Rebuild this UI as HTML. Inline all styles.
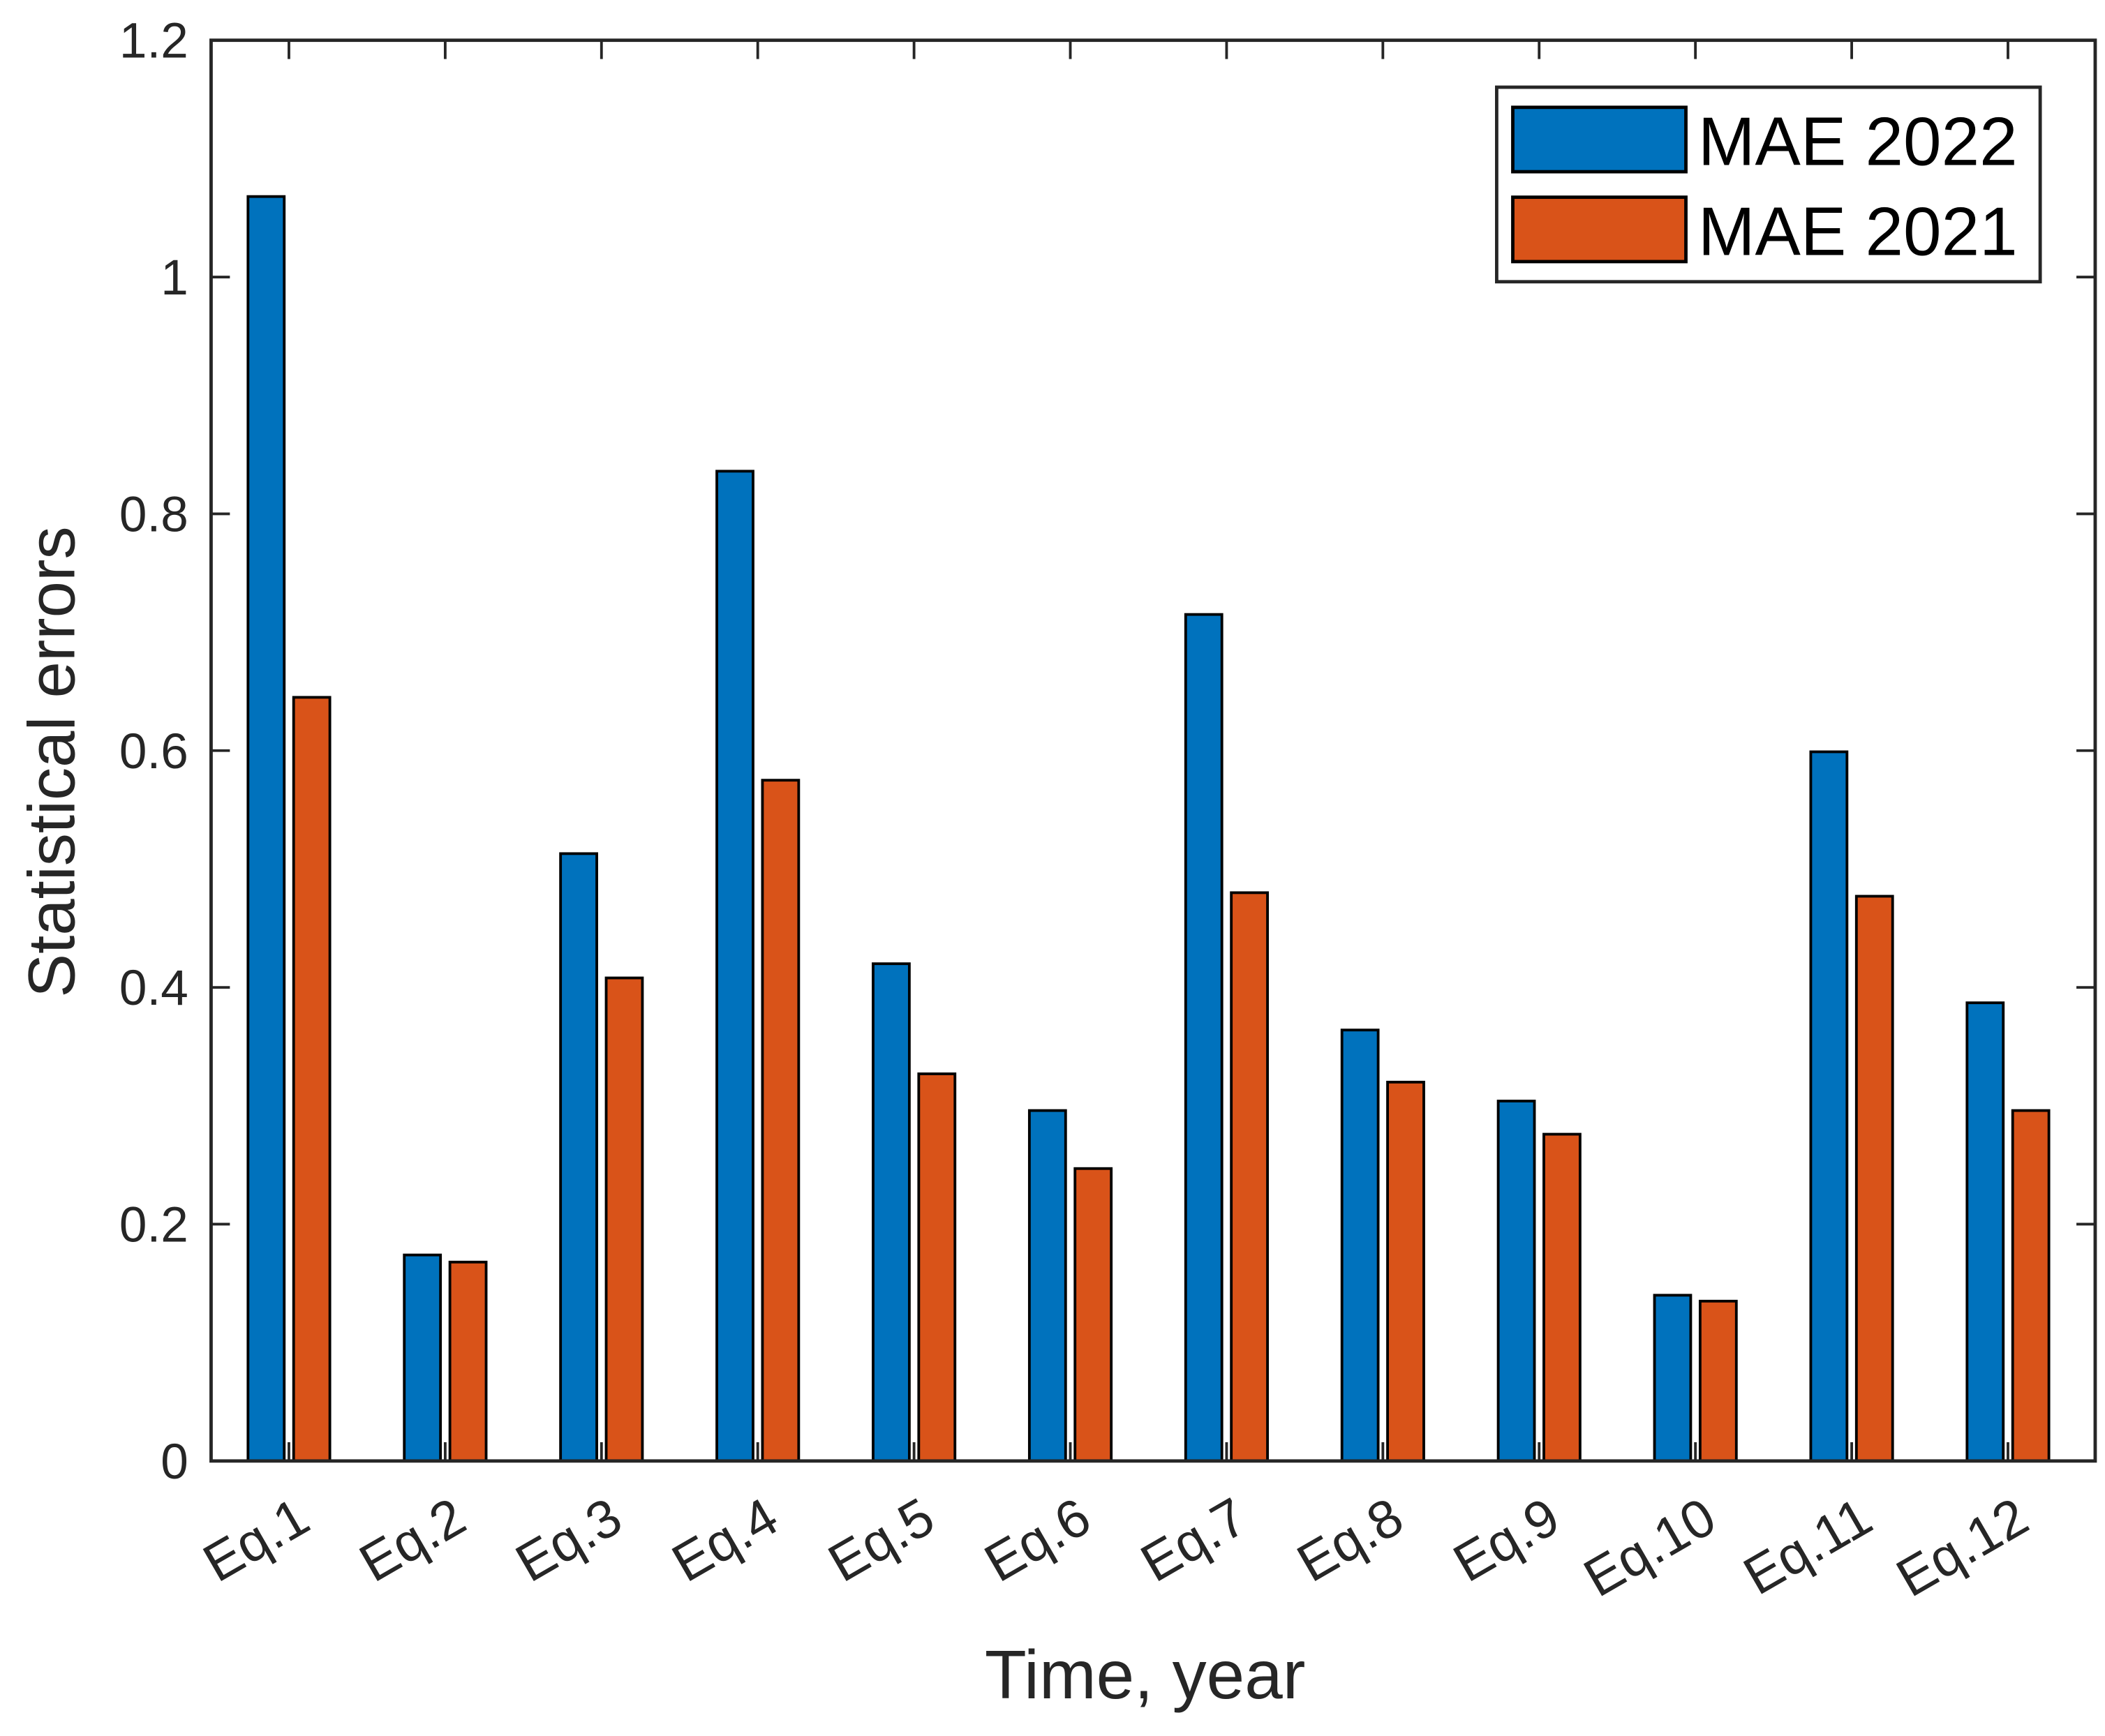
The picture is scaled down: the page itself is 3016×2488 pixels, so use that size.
<!DOCTYPE html>
<html><head><meta charset="utf-8"><style>
html,body{margin:0;padding:0;background:#fff;}
svg{display:block;font-family:"Liberation Sans",Arial,sans-serif;}
</style></head><body>
<svg id="chart" width="3016" height="2488" viewBox="0 0 1568 1294" xmlns="http://www.w3.org/2000/svg">
<rect x="0" y="0" width="1568" height="1294" fill="#fff"/>
<g id="bars"></g>
<g id="axes"></g>
<text x="853" y="1266" font-size="51" text-anchor="middle" fill="#262626">Time, year</text>
<text transform="translate(55,568) rotate(-90)" font-size="49" text-anchor="middle" fill="#262626">Statistical errors</text>
<g>
<rect x="1115" y="65" width="405" height="145" fill="#fff" stroke="#262626" stroke-width="2.5"/>
<rect x="1127" y="80" width="129" height="48" fill="#0072BD" stroke="#000" stroke-width="2.5"/>
<text x="1265" y="123" font-size="51" fill="#000">MAE 2022</text>
<rect x="1127" y="147" width="129" height="48" fill="#D95319" stroke="#000" stroke-width="2.5"/>
<text x="1265" y="190" font-size="51" fill="#000">MAE 2021</text>
</g>
</svg>
<script>
const categories = ["Eq.1","Eq.2","Eq.3","Eq.4","Eq.5","Eq.6","Eq.7","Eq.8","Eq.9","Eq.10","Eq.11","Eq.12"];
const mae2022 = [1.068,0.174,0.513,0.836,0.420,0.296,0.715,0.364,0.304,0.140,0.599,0.387];
const mae2021 = [0.645,0.168,0.408,0.575,0.327,0.247,0.480,0.320,0.276,0.135,0.477,0.296];
const yTicks = [0,0.2,0.4,0.6,0.8,1,1.2];
const yTickLabels = ["0","0.2","0.4","0.6","0.8","1","1.2"];

const NS="http://www.w3.org/2000/svg";
const L=157,R=1561,T=30,B=1089,YMAX=1.2;
const x0=215, step=(1496-215)/11;
function xs(i){return x0+i*step;}
function ys(v){return B-(v/YMAX)*(B-T);}
function mk(tag,attrs,parent){const e=document.createElementNS(NS,tag);for(const k in attrs)e.setAttribute(k,attrs[k]);parent.appendChild(e);return e;}
const bars=document.getElementById('bars'), axes=document.getElementById('axes');
const bw=27, gap=7;
categories.forEach((c,i)=>{
  const cx=xs(i);
  const b1=mk('rect',{x:cx-gap/2-bw,y:ys(mae2022[i]),width:bw,height:B-ys(mae2022[i]),fill:'#0072BD',stroke:'#000','stroke-width':2},bars);
  
  
  const b2=mk('rect',{x:cx+gap/2,y:ys(mae2021[i]),width:bw,height:B-ys(mae2021[i]),fill:'#D95319',stroke:'#000','stroke-width':2},bars);
  
  
  const tb=mk('line',{x1:cx,x2:cx,y1:B,y2:B-14,stroke:'#262626','stroke-width':2},axes);
  
  
  const tt=mk('line',{x1:cx,x2:cx,y1:T,y2:T+14,stroke:'#262626','stroke-width':2},axes);
  
  
  const lab=mk('text',{transform:`translate(${cx+18},${B+50}) rotate(-30)`,'font-size':40,'text-anchor':'end',fill:'#262626'},axes);
  lab.textContent=c;
  
  
});
yTicks.forEach((v,i)=>{
  const y=ys(v);
  const t1=mk('line',{x1:L,x2:L+14,y1:y,y2:y,stroke:'#262626','stroke-width':2},axes);
  
  
  const t2=mk('line',{x1:R,x2:R-14,y1:y,y2:y,stroke:'#262626','stroke-width':2},axes);
  
  
  const lab=mk('text',{x:L-17,y:y+13,'font-size':37,'text-anchor':'end',fill:'#262626'},axes);
  lab.textContent=yTickLabels[i];
  
  
});
const frame=mk('rect',{x:L,y:T,width:R-L,height:B-T,fill:'none',stroke:'#262626','stroke-width':2.5},axes);


</script>
</body></html>
